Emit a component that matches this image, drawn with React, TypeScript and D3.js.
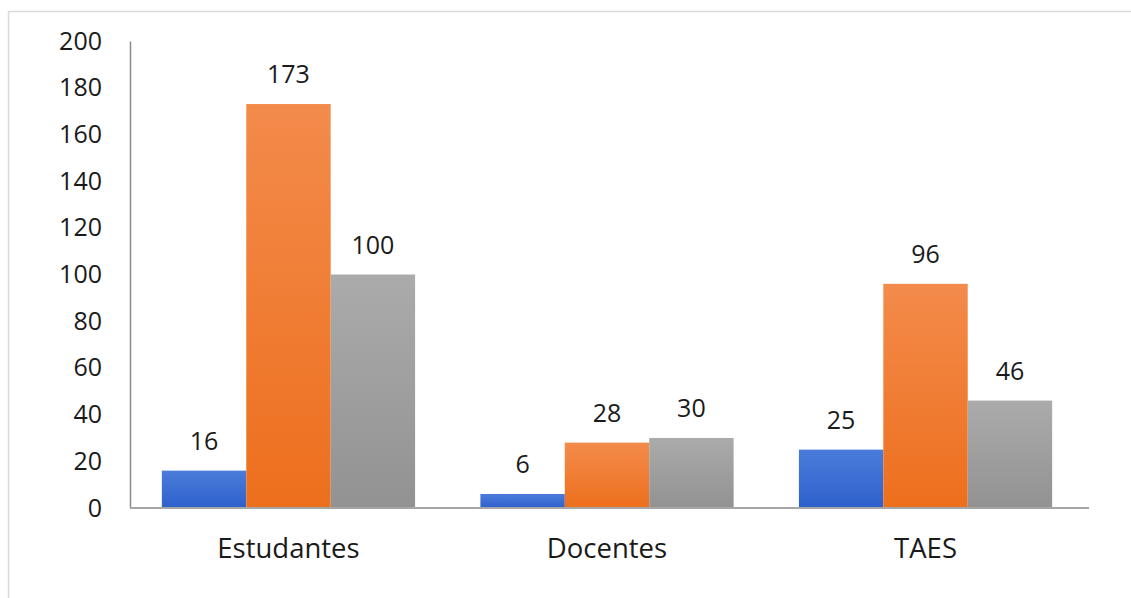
import React, { useEffect, useRef } from 'react';
import * as d3 from 'd3';

const categories = ['Estudantes', 'Docentes', 'TAES'];
const seriesA = [16, 6, 25];
const seriesB = [173, 28, 96];
const seriesC = [100, 30, 46];
const yTicks = [0, 20, 40, 60, 80, 100, 120, 140, 160, 180, 200];

const colors = [
  { top: '#4b7cdb', bottom: '#2e60cb' },
  { top: '#f38b4b', bottom: '#ed6f1d' },
  { top: '#ababab', bottom: '#929292' },
];

const App = () => {
  const svgRef = useRef<SVGSVGElement>(null);

  useEffect(() => {
    const width = 1131;
    const height = 598;
    const svg = d3.select(svgRef.current);
    svg.selectAll('*').remove();
    svg.attr('width', width).attr('height', height);

    const font = "'Open Sans', sans-serif";
    const series = [seriesA, seriesB, seriesC];

    // gradients
    const defs = svg.append('defs');
    colors.forEach((c, i) => {
      const lg = defs.append('linearGradient')
        .attr('id', 'grad' + i)
        .attr('x1', 0).attr('y1', 0).attr('x2', 0).attr('y2', 1);
      lg.append('stop').attr('offset', '0%').attr('stop-color', c.top);
      lg.append('stop').attr('offset', '100%').attr('stop-color', c.bottom);
    });

    // frame
    svg.append('rect')
      .attr('x', 8.5).attr('y', 11.5)
      .attr('width', 1140).attr('height', 600)
      .attr('fill', '#fff')
      .attr('stroke', '#d9d9d9')
      .attr('stroke-width', 1.5);

    const x = d3.scaleBand()
      .domain(categories)
      .range([130, 1084])
      .paddingInner(0.205)
      .paddingOuter(0.1);

    const xs = d3.scaleBand()
      .domain(['a', 'b', 'c'])
      .range([0, x.bandwidth()]);

    const y = d3.scaleLinear()
      .domain([0, 200])
      .range([508, 41]);

    const g = svg.append('g');

    // bars
    series.forEach((vals, si) => {
      const key = ['a', 'b', 'c'][si];
      g.selectAll('.bar' + si)
        .data(vals)
        .enter()
        .append('rect')
        .attr('x', (_d, i) => (x(categories[i]) as number) + (xs(key) as number))
        .attr('y', d => y(d))
        .attr('width', xs.bandwidth())
        .attr('height', d => y(0) - y(d))
        .attr('fill', `url(#grad${si})`);

      g.selectAll('.lab' + si)
        .data(vals)
        .enter()
        .append('text')
        .attr('x', (_d, i) => (x(categories[i]) as number) + (xs(key) as number) + xs.bandwidth() / 2)
        .attr('y', d => y(d) - 21)
        .attr('text-anchor', 'middle')
        .attr('font-family', font)
        .attr('font-size', 25)
        .attr('fill', '#1a1a1a')
        .text(d => d);
    });

    // y axis
    const yAxis = g.append('g')
      .attr('transform', 'translate(130,0)')
      .call(d3.axisLeft(y).tickValues(yTicks).tickSize(0).tickPadding(28));
    yAxis.select('.domain').attr('stroke', '#8c8c8c').attr('stroke-width', 1.5);
    yAxis.selectAll('text')
      .attr('font-family', font)
      .attr('font-size', 25)
      .attr('fill', '#1a1a1a');

    // x axis
    const xAxis = g.append('g')
      .attr('transform', `translate(0,${y(0)})`)
      .call(d3.axisBottom(x).tickSize(0).tickPadding(30));
    xAxis.select('.domain').remove();
    xAxis.append('line')
      .attr('x1', 130).attr('x2', 1089)
      .attr('stroke', '#a6a6a6').attr('stroke-width', 2);
    xAxis.selectAll('text')
      .attr('font-family', font)
      .attr('font-size', 27.5)
      .attr('fill', '#1a1a1a');
  }, []);

  return <svg ref={svgRef} style={{ position: 'absolute', left: 0, top: 0 }} />;
};

export default App;
